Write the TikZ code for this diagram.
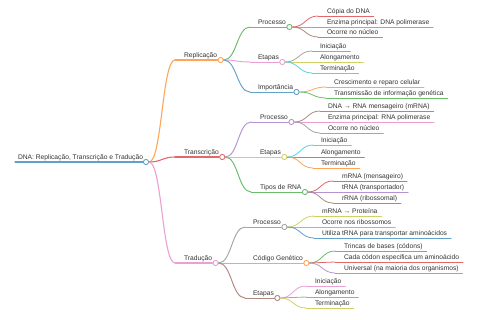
\documentclass[tikz,border=0pt]{standalone}
\usepackage{fontspec}
\setmainfont{Liberation Sans}
\usetikzlibrary{calc}
\definecolor{k0}{HTML}{1F77B4}
\definecolor{k1}{HTML}{FF7F0E}
\definecolor{k2}{HTML}{2CA02C}
\definecolor{k3}{HTML}{D62728}
\definecolor{k4}{HTML}{9467BD}
\definecolor{k5}{HTML}{8C564B}
\definecolor{k6}{HTML}{E377C2}
\definecolor{k7}{HTML}{7F7F7F}
\definecolor{k8}{HTML}{BCBD22}
\definecolor{k9}{HTML}{17BECF}
\definecolor{txt}{HTML}{333333}
\tikzset{
  mmtext/.style={inner sep=0pt, outer sep=0pt, text=txt, font=\fontsize{6.7}{8}\selectfont},
  mmdot/.style={circle, fill=white, inner sep=0pt, minimum size=5.2pt, line width=0.9pt},
  d0/.style={line width=1.3pt, line cap=round},
  d1/.style={line width=1.1pt, line cap=round},
  d2/.style={line width=0.95pt, line cap=round},
  d3/.style={line width=0.8pt, line cap=round},
}
\newcommand\mmlink[3]{%
  \coordinate (#2m) at ($(#1c.east)!0.5!(#2s)$);
  \draw[#3] (#1c.east) .. controls (#2m |- #1c.east) and (#2m |- #2s) .. (#2s);
}
\newcommand\mmnode[8]{%
  \coordinate (#1s) at (#4,#3);
  \node[mmtext,anchor=base west] (#1) at (#5,#3-2.5) {#8};
  \node[mmdot,draw=#6!70!white] (#1c) at ($(#1.east |- #1s)+(3.5,0)$) {};
  \mmlink{#2}{#1}{#6!70!white,#7}
  \draw[#6!70!white,#7] (#1s) -- (#1c.west);
}
\newcommand\mmleaf[8]{%
  \coordinate (#1s) at (#4,#3);
  \node[mmtext,anchor=base west] (#1) at (#5,#3-2.5) {#8};
  \coordinate (#1e) at ($(#1.east |- #1s)+(4,0)$);
  \mmlink{#2}{#1}{#6!70!white,#7}
  \draw[#6!70!white,#7] (#1s) -- (#1e);
}
\begin{document}
\begin{tikzpicture}[x=1pt,y=-1pt]
\useasboundingbox (0,0) rectangle (480,320);
% root
\coordinate (roots) at (15,162);
\node[mmtext,anchor=base west] (root) at (18,162-2.5) {DNA: Replicação, Transcrição e Tradução};
\node[mmdot,draw=k0!70!white] (rootc) at ($(root.east |- roots)+(3,0)$) {};
\draw[k0!70!white,d0] (roots) -- (rootc.west);
% level 1
\mmnode{R}{root}{60}{175}{184}{k1}{d1}{Replicação}
\mmnode{T}{root}{157}{175}{184}{k3}{d1}{Transcrição}
\mmnode{D}{root}{263}{175}{184}{k6}{d1}{Tradução}
% Replicação
\mmnode{RP}{R}{27}{250}{258}{k2}{d2}{Processo}
\mmnode{RE}{R}{62}{250}{258}{k6}{d2}{Etapas}
\mmnode{RI}{R}{92}{250}{258}{k0}{d2}{Importância}
\mmleaf{RP1}{RP}{16}{318}{327}{k3}{d3}{Cópia do DNA}
\mmleaf{RP2}{RP}{27}{318}{327}{k4}{d3}{Enzima principal: DNA polimerase}
\mmleaf{RP3}{RP}{37}{318}{327}{k5}{d3}{Ocorre no núcleo}
\mmleaf{RE1}{RE}{51}{312}{320}{k7}{d3}{Iniciação}
\mmleaf{RE2}{RE}{62}{312}{320}{k8}{d3}{Alongamento}
\mmleaf{RE3}{RE}{73}{312}{320}{k9}{d3}{Terminação}
\mmleaf{RI1}{RI}{87}{326}{334}{k1}{d3}{Crescimento e reparo celular}
\mmleaf{RI2}{RI}{98}{326}{334}{k2}{d3}{Transmissão de informação genética}
% Transcrição
\mmnode{TP}{T}{122}{251}{260}{k4}{d2}{Processo}
\mmnode{TE}{T}{157}{251}{260}{k8}{d2}{Etapas}
\mmnode{TT}{T}{192}{251}{260}{k2}{d2}{Tipos de RNA}
\mmleaf{TP1}{TP}{111}{320}{328}{k5}{d3}{DNA → RNA mensageiro (mRNA)}
\mmleaf{TP2}{TP}{122}{320}{328}{k6}{d3}{Enzima principal: RNA polimerase}
\mmleaf{TP3}{TP}{133}{320}{328}{k7}{d3}{Ocorre no núcleo}
\mmleaf{TE1}{TE}{145}{313}{321}{k9}{d3}{Iniciação}
\mmleaf{TE2}{TE}{157}{313}{321}{k0}{d3}{Alongamento}
\mmleaf{TE3}{TE}{168}{313}{321}{k1}{d3}{Terminação}
\mmleaf{TT1}{TT}{181}{333}{342}{k3}{d3}{mRNA (mensageiro)}
\mmleaf{TT2}{TT}{192}{333}{342}{k4}{d3}{tRNA (transportador)}
\mmleaf{TT3}{TT}{203}{333}{342}{k5}{d3}{rRNA (ribossomal)}
% Tradução
\mmnode{DP}{D}{227}{245}{253}{k7}{d2}{Processo}
\mmnode{DC}{D}{263}{245}{253}{k1}{d2}{Código Genético}
\mmnode{DE}{D}{298}{245}{253}{k5}{d2}{Etapas}
\mmleaf{DP1}{DP}{216}{314}{322}{k8}{d3}{mRNA → Proteína}
\mmleaf{DP2}{DP}{227}{314}{322}{k9}{d3}{Ocorre nos ribossomos}
\mmleaf{DP3}{DP}{238}{314}{322}{k0}{d3}{Utiliza tRNA para transportar aminoácidos}
\mmleaf{DC1}{DC}{251}{335}{344}{k2}{d3}{Trincas de bases (códons)}
\mmleaf{DC2}{DC}{262}{335}{344}{k3}{d3}{Cada códon especifica um aminoácido}
\mmleaf{DC3}{DC}{273}{335}{344}{k4}{d3}{Universal (na maioria dos organismos)}
\mmleaf{DE1}{DE}{286}{306}{315}{k6}{d3}{Iniciação}
\mmleaf{DE2}{DE}{297}{306}{315}{k7}{d3}{Alongamento}
\mmleaf{DE3}{DE}{308}{306}{315}{k8}{d3}{Terminação}
\end{tikzpicture}
\end{document}
